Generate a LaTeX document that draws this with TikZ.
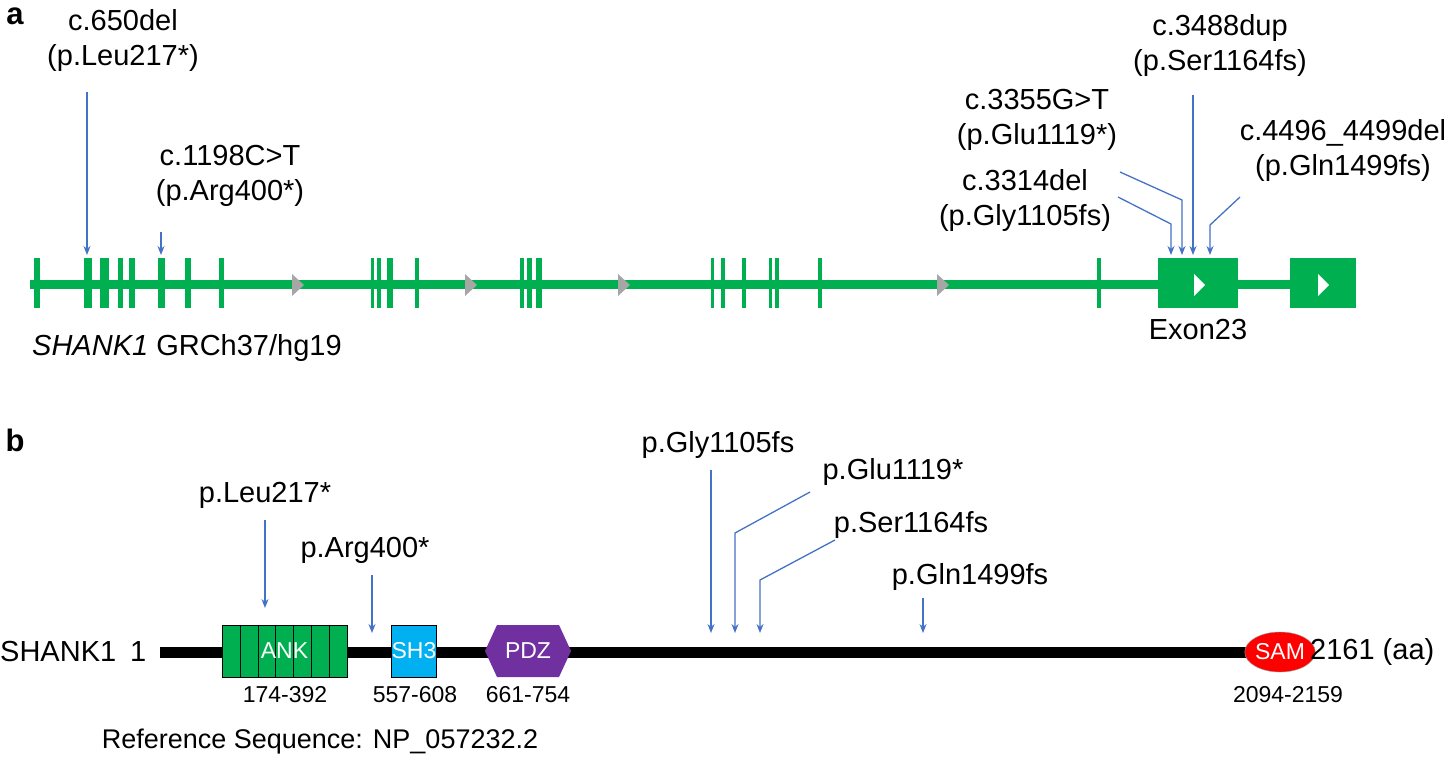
\documentclass[tikz,border=0pt]{standalone}
\usepackage{fontspec}
\setmainfont{Liberation Sans}
\usetikzlibrary{arrows.meta,shapes.geometric}
\definecolor{gr}{HTML}{00B050}
\definecolor{bl}{HTML}{4472C4}
\definecolor{gy}{HTML}{A6A6A6}
\definecolor{cy}{HTML}{00B0F0}
\definecolor{pu}{HTML}{7030A0}
\begin{document}
\begin{tikzpicture}[x=1pt,y=-1pt,
  lab/.style={font=\fontsize{29}{35}\selectfont,align=center,inner sep=0pt},
  sm/.style={font=\fontsize{23}{27}\selectfont,inner sep=0pt},
  mut/.style={draw=bl,line width=1.3pt,-{Stealth[length=9pt,width=7pt]}},
  dom/.style={font=\fontsize{23}{27}\selectfont,text=white,inner sep=0pt}]
\useasboundingbox (0,0) rectangle (1448,758);
% panel a
\node[font=\fontsize{31}{35}\selectfont\bfseries,inner sep=0pt] (la) at (15,16) {a};
\draw[gr,line width=9pt] (30,284) -- (1356,284);
\foreach \a/\b in {34/40,84/92,100/109,118/123,129/135,158/165,185/191,219/224,
  371/374,377/381,387/393,415/419,520/524,527/532,536/542,
  711/714,721/725,742/746,769/772,775/779,818/822,1097/1101}
  \fill[gr] (\a,258) rectangle (\b,308);
\fill[gr] (1158,258) rectangle (1238,308);
\fill[gr] (1290,258) rectangle (1356,308);
\foreach \x in {292,465,618,937}
  \fill[gy] (\x,274) -- (\x+12,285) -- (\x,296) -- cycle;
\fill[white] (1194,274) -- (1205,285) -- (1194,296) -- cycle;
\fill[white] (1318,274) -- (1329,285) -- (1318,296) -- cycle;
\node[lab] (m1) at (123,40) {c.650del\\(p.Leu217*)};
\node[lab] (m2) at (230,176) {c.1198C>T\\(p.Arg400*)};
\node[lab] (m3) at (1025,200) {c.3314del\\(p.Gly1105fs)};
\node[lab] (m4) at (1037,120) {c.3355G>T\\(p.Glu1119*)};
\node[lab] (m5) at (1220,45) {c.3488dup\\(p.Ser1164fs)};
\node[lab] (m6) at (1343,150) {c.4496\_4499del\\(p.Gln1499fs)};
\coordinate (e1) at (87,255);
\coordinate (e2) at (161,255);
\draw[mut] (87,92) -- (e1);
\draw[mut] (161,232) -- (e2);
\draw[mut] (1118,197) -- (1171,224) -- (1171,255);
\draw[mut] (1120,172) -- (1182,200) -- (1182,255);
\draw[mut] (1193,95) -- (1193,255);
\draw[mut] (1240,197) -- (1210,225) -- (1210,255);
\node[lab] (ex) at (1198,330) {Exon23};
\node[lab,anchor=west] (gn) at (32,348) {\textit{SHANK1} GRCh37/hg19};
% panel b
\node[font=\fontsize{31}{35}\selectfont\bfseries,inner sep=0pt] (lb) at (15,440) {b};
\draw[black,line width=11pt] (160,652) -- (1275,652);
\node[draw=black,fill=gr,minimum width=125pt,minimum height=52pt,inner sep=0pt] (ank) at (284.5,651) {};
\foreach \i in {1,...,6} \draw (222+\i*17.86,625) -- ++(0,52);
\node[dom] at (ank) {ANK};
\node[draw=black,fill=cy,minimum width=44pt,minimum height=52pt,dom] (sh) at (414,651) {SH3};
\fill[pu] (485,651) -- (497,625) -- (559,625) -- (571,651) -- (559,677) -- (497,677) -- cycle;
\node[dom] (pdz) at (528,651) {PDZ};
\node[ellipse,fill=red,draw=black!40,minimum width=48pt,minimum height=40pt,inner sep=0pt,dom] (sam) at (1280,652) {SAM};
\node[lab,anchor=west] (s1) at (0,652) {SHANK1\hspace{14pt}1};
\node[lab,anchor=west] (s2) at (1310,652) {2161 (aa)};
\node[sm] at (285,695) {174-392};
\node[sm] at (415,695) {557-608};
\node[sm] at (528,695) {661-754};
\node[sm] at (1288,695) {2094-2159};
\node[lab,font=\fontsize{27}{31}\selectfont] (rs) at (320,742) {Reference Sequence: NP\_057232.2};
\node[lab] (p1) at (265,495) {p.Leu217*};
\node[lab] (p2) at (365,550) {p.Arg400*};
\node[lab] (p3) at (718,445) {p.Gly1105fs};
\node[lab] (p4) at (893,472) {p.Glu1119*};
\node[lab] (p5) at (911,525) {p.Ser1164fs};
\node[lab] (p6) at (970,577) {p.Gln1499fs};
\draw[mut] (265,520) -- (265,608);
\draw[mut] (372,575) -- (372,633);
\draw[mut] (711,470) -- (711,633);
\draw[mut] (810,492) -- (735,533) -- (735,633);
\draw[mut] (835,540) -- (760,580) -- (760,633);
\draw[mut] (923,598) -- (923,633);
\end{tikzpicture}
\end{document}
